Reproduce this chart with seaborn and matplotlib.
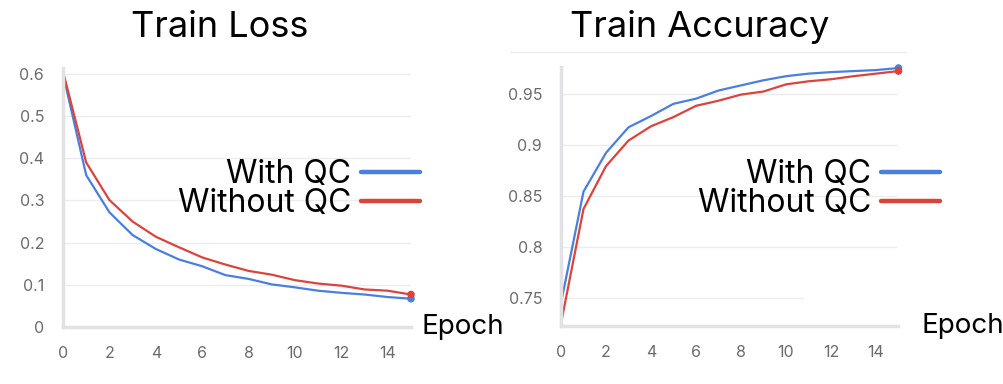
import matplotlib
matplotlib.use("Agg")
import matplotlib.pyplot as plt
import seaborn as sns
import pandas as pd
import numpy as np

epochs = list(range(16))
loss_with_qc = [0.600, 0.360, 0.272, 0.218, 0.185, 0.160, 0.144, 0.123,
                0.114, 0.101, 0.094, 0.086, 0.081, 0.077, 0.071, 0.067]
loss_without_qc = [0.606, 0.390, 0.301, 0.250, 0.214, 0.189, 0.165, 0.148,
                   0.133, 0.124, 0.111, 0.103, 0.098, 0.089, 0.086, 0.077]
acc_with_qc = [0.745, 0.854, 0.892, 0.917, 0.928, 0.940, 0.945, 0.953,
               0.958, 0.963, 0.967, 0.9695, 0.971, 0.972, 0.973, 0.975]
acc_without_qc = [0.725, 0.837, 0.879, 0.904, 0.918, 0.927, 0.938, 0.943,
                  0.949, 0.952, 0.959, 0.962, 0.964, 0.967, 0.9695, 0.972]
series_names = ["With QC", "Without QC"]
colors = ["#4a7fe0", "#d9443d"]

sns.set_style("white")
plt.rcParams["font.family"] = ["Inter", "DejaVu Sans"]
plt.rcParams["text.color"] = "black"

W, H = 1004, 384


def long_df(a, b):
    return pd.DataFrame({
        "Epoch": epochs * 2,
        "value": a + b,
        "series": [series_names[0]] * len(epochs) + [series_names[1]] * len(epochs),
    })


def style_axes(ax, yticks, ylabels, ylim, label_x, short_grid=None):
    ax.set_xlim(0, 15)
    ax.set_ylim(*ylim)
    ax.set_xticks(range(0, 15, 2))
    ax.set_yticks(yticks)
    ax.set_yticklabels(ylabels)
    for t in yticks:
        xmax = short_grid.get(t, 1.0) if short_grid else 1.0
        ax.axhline(t, xmax=xmax, color="#ececec", linewidth=1, zorder=0)
    for s in ["top", "right"]:
        ax.spines[s].set_visible(False)
    for s in ["left", "bottom"]:
        ax.spines[s].set_color("#e2e2e4")
        ax.spines[s].set_linewidth(2.5)
    ax.tick_params(direction="inout", length=11, width=1.5, color="#e2e2e4",
                   labelcolor="#6b6b6b", labelsize=11.5, pad=8)
    ax.set_ylabel("")
    ax.set_xlabel("Epoch", fontsize=20, color="black")
    ax.xaxis.set_label_coords(label_x, 0.0)
    ax.xaxis.label.set_ha("left")
    ax.xaxis.label.set_va("center")


fig = plt.figure(figsize=(W / 100, H / 100), dpi=100)
ax1 = fig.add_axes([63 / W, 1 - 327 / H, 348 / W, 259 / H])
ax2 = fig.add_axes([561 / W, 1 - 326 / H, 337.5 / W, 259 / H])

for ax, a, b in [(ax1, loss_with_qc, loss_without_qc), (ax2, acc_with_qc, acc_without_qc)]:
    d = long_df(a, b)
    sns.lineplot(data=d, x="Epoch", y="value", hue="series", palette=colors,
                 linewidth=1.6, ax=ax, legend=False, clip_on=False)
    last = d[d["Epoch"] == epochs[-1]]
    sns.scatterplot(data=last, x="Epoch", y="value", hue="series", palette=colors,
                    s=30, edgecolor="none", ax=ax, legend=False, clip_on=False, zorder=5)

style_axes(ax1, [0, 0.1, 0.2, 0.3, 0.4, 0.5, 0.6],
           ["0", "0.1", "0.2", "0.3", "0.4", "0.5", "0.6"], (0, 0.614), 1.031)
style_axes(ax2, [0.75, 0.8, 0.85, 0.9, 0.95],
           ["0.75", "0.8", "0.85", "0.9", "0.95"], (0.7225, 0.976), 1.069,
           short_grid={0.75: (803 - 561) / 337.5})

# faint stray line above the accuracy plot
fig.add_artist(plt.Line2D([510 / W, 906 / W], [1 - 52 / H, 1 - 52 / H],
                          color="#ececec", linewidth=1))

handles = [plt.Line2D([], [], color=c, linewidth=3.2) for c in colors]
for ax, xr in [(ax1, 420), (ax2, 940)]:
    ax.legend(handles, series_names, loc="center right",
              bbox_to_anchor=(xr / W, 1 - 189 / H), bbox_transform=fig.transFigure,
              frameon=False, markerfirst=False, fontsize=23, handlelength=1.85,
              handletextpad=0.3, labelspacing=-0.08, borderaxespad=0, borderpad=0)

fig.text(220 / W, 1 - 37 / H, "Train Loss", ha="center", va="baseline", fontsize=26)
fig.text(700 / W, 1 - 37 / H, "Train Accuracy", ha="center", va="baseline", fontsize=26)

fig.savefig("out.png", dpi=100)
